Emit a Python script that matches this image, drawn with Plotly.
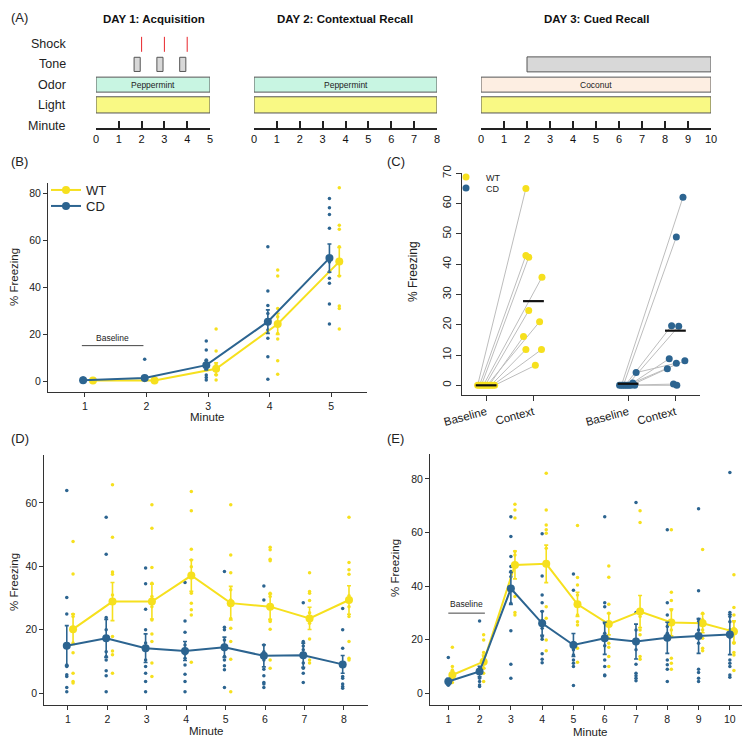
import plotly.graph_objects as go

# The page body adds an 8 px margin; draw on a figure 8 px smaller and offset coordinates.
OFF = 8
W, H = 750 - OFF, 739 - OFF
def fx(p): return (p - OFF) / W
def fy(p): return 1 - (p - OFF) / H

YELLOW = '#F6E01E'
BLUE = '#2C6490'
AX = '#333333'
FONT = 'Liberation Sans, Arial, Helvetica, sans-serif'

# ---------------- Panel A : protocol ----------------
day_titles = ['DAY 1: Acquisition', 'DAY 2: Contextual Recall', 'DAY 3: Cued Recall']
day_lengths = [5, 8, 10]
day_odors = ['Peppermint', 'Peppermint', 'Coconut']
odor_colors = {'Peppermint': '#C8F5E2', 'Coconut': '#FDEEE2'}
light_color = '#F9F984'
tone_color = '#D8D8D8'
row_labels = ['Light', 'Odor', 'Tone', 'Shock']
row_values = [1, 2, 3, 4]
day1_tone_starts = [1.67, 2.67, 3.67]
day1_tone_length = 0.27
day1_shocks = [2, 3, 4]
day3_tone_start = 2
day3_tone_end = 10

# ---------------- Panel B : Day 1 acquisition ----------------
minutes_B = [1, 2, 3, 4, 5]
wt_mean_B = [0.5, 0.5, 5.5, 24.5, 51.0]
wt_se_B = [0.3, 0.3, 2.5, 4.5, 6.0]
cd_mean_B = [0.6, 1.6, 7.0, 25.5, 52.5]
cd_se_B = [0.3, 0.5, 2.0, 5.0, 6.0]
wt_pts_B = [
    [0, 0, 0.5, 1],
    [0, 0.5, 1, 1.5],
    [22.4, 13.0, 7.5, 5.0, 2.8, 0.7],
    [47.4, 44.9, 31.1, 27.6, 20.5, 18.1, 8.9, 3.1],
    [82.4, 66.5, 64.8, 57.3, 44.9, 32.1, 31.1, 22.4],
]
cd_pts_B = [
    [0, 0, 0.5, 1, 1.5],
    [9.5, 0.5, 1, 1.5, 2],
    [17.3, 13.4, 9.2, 8.1, 6.9, 5.2, 2.8, 1.8, 0.7],
    [57.3, 38.5, 32.4, 29.0, 25.0, 21.9, 18.4, 10.6, 1.0],
    [77.8, 73.9, 71.0, 65.2, 50.8, 46.7, 43.9, 41.8, 33.0, 24.5],
]

# ---------------- Panel C : baseline vs context ----------------
c_categories = ['Baseline', 'Context', 'Baseline', 'Context']
c_positions = [1, 2, 4, 5]
wt_base_C = [0, 0, 0, 0, 0, 0, 0, 0, 0, 0]
wt_ctx_C = [65.0, 42.9, 42.3, 35.7, 24.7, 21.0, 16.1, 11.8, 11.8, 6.6]
wt_base_jit = [-0.18, -0.14, -0.1, -0.06, -0.02, 0.02, 0.06, 0.1, 0.14, 0.18]
wt_ctx_jit = [-0.16, -0.16, -0.1, 0.18, -0.1, 0.13, -0.21, -0.16, 0.17, 0.04]
cd_base_C = [0, 0, 0, 0, 0, 4.2, 0.8, 0, 0, 0]
cd_ctx_C = [62.1, 49.0, 19.7, 19.5, 8.8, 7.3, 8.1, 5.5, 0.4, 0.0]
cd_base_jit = [-0.14, -0.1, -0.06, -0.02, 0.02, 0.17, 0.1, 0.06, -0.18, 0.14]
cd_ctx_jit = [0.16, 0.02, -0.08, 0.07, -0.13, 0.02, 0.2, -0.17, -0.04, 0.03]

# ---------------- Panel D : Day 2 contextual recall ----------------
minutes_D = [1, 2, 3, 4, 5, 6, 7, 8]
wt_mean_D = [20.2, 28.9, 28.9, 37.1, 28.4, 27.3, 23.6, 29.4]
wt_se_D = [4.8, 6.0, 5.5, 5.0, 5.3, 4.0, 3.5, 4.5]
cd_mean_D = [15.0, 17.3, 14.2, 13.3, 14.5, 11.8, 12.0, 9.1]
cd_se_D = [6.3, 6.0, 4.5, 3.0, 3.2, 3.5, 3.8, 2.8]
wt_pts_D = [
    [47.8, 37.6, 24.9, 24.2, 15.8, 12.8, 6.3, 3.7, 3.2],
    [65.7, 49.2, 38.2, 37.5, 31.0, 17.9, 13.3, 12.1, 6.3],
    [59.4, 52.0, 39.6, 34.7, 30.5, 27.3, 23.1, 18.7, 16.3, 9.5, 5.3],
    [63.6, 57.5, 45.4, 42.0, 39.9, 31.5, 28.4, 26.3, 24.7, 9.8],
    [59.4, 43.6, 38.0, 32.6, 29.4, 23.6, 20.5, 16.3, 10.7, 0.5],
    [46.0, 45.2, 42.2, 41.8, 31.5, 30.5, 23.1, 22.6, 20.2, 10.5, 7.9],
    [38.0, 32.1, 31.5, 29.2, 25.4, 22.1, 17.1, 10.5, 9.5],
    [55.5, 41.2, 38.9, 37.5, 30.7, 29.4, 27.3, 24.2, 16.3, 11.0, 10.5],
]
cd_pts_D = [
    [63.9, 30.2, 25.0, 8.9, 8.4, 5.8, 5.3, 1.8, 0.5],
    [55.5, 43.8, 23.9, 20.0, 13.1, 11.6, 10.5, 7.1, 5.5, 0.5],
    [39.5, 34.5, 26.5, 20.0, 15.8, 10.5, 8.4, 6.3, 3.7, 0.5],
    [34.9, 22.8, 19.2, 15.2, 12.4, 11.0, 8.9, 6.0, 3.7, 0.5],
    [38.4, 20.8, 20.0, 16.8, 13.7, 11.6, 10.5, 8.7, 7.4, 1.8],
    [33.8, 29.4, 15.2, 13.1, 10.5, 7.6, 5.5, 3.4, 2.9, 1.8],
    [28.5, 16.3, 14.9, 13.7, 11.6, 9.5, 7.9, 6.3, 3.4],
    [26.7, 20.0, 14.2, 8.4, 5.3, 4.7, 2.9, 2.1, 1.6],
]

# ---------------- Panel E : Day 3 cued recall ----------------
minutes_E = [1, 2, 3, 4, 5, 6, 7, 8, 9, 10]
wt_mean_E = [6.8, 11.8, 47.9, 48.3, 33.2, 25.8, 30.5, 26.4, 26.1, 23.0]
wt_se_E = [1.5, 2.5, 5.2, 7.0, 4.5, 4.0, 6.0, 5.0, 3.5, 4.0]
cd_mean_E = [4.4, 8.1, 39.1, 26.1, 18.0, 20.5, 19.3, 20.7, 21.4, 21.9]
cd_se_E = [1.2, 2.0, 6.0, 4.5, 4.3, 6.0, 6.5, 5.8, 6.5, 7.5]
wt_pts_E = [
    [17.2, 10.0, 8.7, 7.5, 6.2, 5.2, 4.0],
    [21.8, 19.9, 15.2, 13.7, 12.4, 11.2, 9.3, 7.5, 4.4],
    [70.5, 68.4, 65.4, 52.9, 51.6, 48.5, 36.1, 30.1, 29.2],
    [82.1, 68.4, 62.8, 61.0, 59.7, 54.1, 32.3, 28.0, 19.9, 15.9],
    [62.6, 43.2, 40.4, 36.7, 29.2, 26.7, 25.5, 16.8, 11.6],
    [47.5, 43.3, 33.2, 29.9, 20.5, 18.7, 17.2, 13.7, 10.0],
    [68.1, 63.7, 28.6, 23.6, 21.8, 13.7, 12.7],
    [61.0, 37.7, 34.6, 31.1, 23.6, 21.2, 13.1, 11.2, 9.0],
    [53.7, 29.9, 27.4, 23.6, 20.5, 16.8, 15.9],
    [44.2, 32.0, 29.2, 26.7, 24.3, 18.7, 15.2, 14.3, 8.5],
]
cd_pts_E = [
    [13.3, 5.0, 4.0, 3.0],
    [27.0, 9.3, 7.5, 5.6, 4.4, 3.1, 2.5],
    [65.9, 58.5, 51.0, 47.3, 45.4, 43.5, 33.6, 23.3, 10.8, 5.6],
    [59.5, 43.8, 36.7, 33.8, 30.5, 27.1, 24.3, 21.2, 20.2, 14.7, 12.7, 11.4],
    [44.5, 38.4, 18.9, 16.2, 14.3, 12.4, 11.2, 10.0, 2.9],
    [65.9, 33.8, 32.3, 26.1, 22.4, 17.7, 12.4, 10.0, 6.8, 6.5],
    [71.2, 30.1, 23.6, 16.2, 10.8, 7.5, 6.5, 5.6, 4.7],
    [61.0, 33.8, 29.2, 24.9, 22.4, 12.4, 10.6, 9.0, 4.4],
    [68.9, 38.3, 27.6, 26.7, 23.6, 18.7, 9.0, 7.7, 5.6, 4.4],
    [82.4, 30.1, 28.6, 26.7, 23.6, 20.9, 12.4, 11.2, 10.0, 6.8, 6.0],
]

WT_OFF = 0.13
CD_OFF = -0.03

fig = go.Figure()

# ---------- Panel A traces ----------
day_axes = ['x', 'x2', 'x3']
for i, L in enumerate(day_lengths):
    xa = day_axes[i]
    fig.add_trace(go.Bar(orientation='h', y=[row_values[0]], x=[L], base=[0], width=0.8,
                         marker=dict(color=light_color, line=dict(color='#555', width=1)),
                         xaxis=xa, yaxis='y', showlegend=False, hoverinfo='skip'))
    fig.add_trace(go.Bar(orientation='h', y=[row_values[1]], x=[L], base=[0], width=0.74,
                         marker=dict(color=odor_colors[day_odors[i]], line=dict(color='#555', width=1)),
                         xaxis=xa, yaxis='y', showlegend=False, hoverinfo='skip'))
fig.add_trace(go.Bar(orientation='h', y=[row_values[2]] * len(day1_tone_starts),
                     x=[day1_tone_length] * len(day1_tone_starts), base=day1_tone_starts, width=0.7,
                     marker=dict(color=tone_color, line=dict(color='#555', width=1)),
                     xaxis='x', yaxis='y', showlegend=False, hoverinfo='skip'))
fig.add_trace(go.Bar(orientation='h', y=[row_values[2]], x=[day3_tone_end - day3_tone_start],
                     base=[day3_tone_start], width=0.74,
                     marker=dict(color=tone_color, line=dict(color='#555', width=1)),
                     xaxis='x3', yaxis='y', showlegend=False, hoverinfo='skip'))
sx, sy = [], []
for s in day1_shocks:
    sx += [s, s, None]
    sy += [row_values[3] - 0.38, row_values[3] + 0.36, None]
fig.add_trace(go.Scatter(x=sx, y=sy, mode='lines', line=dict(color='#E8252B', width=1),
                         xaxis='x', yaxis='y', showlegend=False, hoverinfo='skip'))

# ---------- helpers ----------
def dots(minutes, pts, off, color, xa, ya, size=3.5):
    xs, ys = [], []
    for m, vals in zip(minutes, pts):
        xs += [m + off] * len(vals)
        ys += vals
    return go.Scatter(x=xs, y=ys, mode='markers', marker=dict(color=color, size=size),
                      xaxis=xa, yaxis=ya, showlegend=False, hoverinfo='skip')

def means(minutes, mean, se, off, color, xa, ya, name=None, legend=None, size=8):
    return go.Scatter(x=[m + off for m in minutes], y=mean, mode='lines+markers', name=name,
                      line=dict(color=color, width=2), marker=dict(color=color, size=size),
                      error_y=dict(type='data', array=se, visible=True, color=color,
                                   thickness=1.6, width=2),
                      xaxis=xa, yaxis=ya, showlegend=legend is not None,
                      legend=legend if legend else 'legend', hoverinfo='skip')

# ---------- Panel B ----------
fig.add_trace(dots(minutes_B, wt_pts_B, WT_OFF, YELLOW, 'x4', 'y2'))
fig.add_trace(dots(minutes_B, cd_pts_B, CD_OFF, BLUE, 'x4', 'y2'))
fig.add_trace(means(minutes_B, wt_mean_B, wt_se_B, WT_OFF, YELLOW, 'x4', 'y2', 'WT', 'legend'))
fig.add_trace(means(minutes_B, cd_mean_B, cd_se_B, CD_OFF, BLUE, 'x4', 'y2', 'CD', 'legend2'))

# ---------- Panel C ----------
def pair_lines(p0, p1, j0, j1, v0, v1):
    xs, ys = [], []
    for a, b, c, d in zip(j0, j1, v0, v1):
        xs += [p0 + a, p1 + b, None]
        ys += [c, d, None]
    return xs, ys

lx1, ly1 = pair_lines(c_positions[0], c_positions[1], wt_base_jit, wt_ctx_jit, wt_base_C, wt_ctx_C)
lx2, ly2 = pair_lines(c_positions[2], c_positions[3], cd_base_jit, cd_ctx_jit, cd_base_C, cd_ctx_C)
fig.add_trace(go.Scatter(x=lx1 + lx2, y=ly1 + ly2, mode='lines', line=dict(color='#BDBDBD', width=1),
                         xaxis='x5', yaxis='y3', showlegend=False, hoverinfo='skip'))
fig.add_trace(go.Scatter(x=[c_positions[0] + j for j in wt_base_jit] + [c_positions[1] + j for j in wt_ctx_jit],
                         y=wt_base_C + wt_ctx_C, mode='markers', name='WT',
                         marker=dict(color=YELLOW, size=7), xaxis='x5', yaxis='y3',
                         legend='legend3', hoverinfo='skip'))
fig.add_trace(go.Scatter(x=[c_positions[2] + j for j in cd_base_jit] + [c_positions[3] + j for j in cd_ctx_jit],
                         y=cd_base_C + cd_ctx_C, mode='markers', name='CD',
                         marker=dict(color=BLUE, size=7), xaxis='x5', yaxis='y3',
                         legend='legend4', hoverinfo='skip'))
mx, my = [], []
for p, vals in zip(c_positions, [wt_base_C, wt_ctx_C, cd_base_C, cd_ctx_C]):
    m = sum(vals) / len(vals)
    mx += [p - 0.22, p + 0.22, None]
    my += [m, m, None]
fig.add_trace(go.Scatter(x=mx, y=my, mode='lines', line=dict(color='#111', width=2.2),
                         xaxis='x5', yaxis='y3', showlegend=False, hoverinfo='skip'))

# ---------- Panel D ----------
fig.add_trace(dots(minutes_D, wt_pts_D, WT_OFF, YELLOW, 'x6', 'y4'))
fig.add_trace(dots(minutes_D, cd_pts_D, CD_OFF, BLUE, 'x6', 'y4'))
fig.add_trace(means(minutes_D, wt_mean_D, wt_se_D, WT_OFF, YELLOW, 'x6', 'y4'))
fig.add_trace(means(minutes_D, cd_mean_D, cd_se_D, CD_OFF, BLUE, 'x6', 'y4'))

# ---------- Panel E ----------
fig.add_trace(dots(minutes_E, wt_pts_E, WT_OFF, YELLOW, 'x7', 'y5'))
fig.add_trace(dots(minutes_E, cd_pts_E, 0.0, BLUE, 'x7', 'y5'))
fig.add_trace(means(minutes_E, wt_mean_E, wt_se_E, WT_OFF, YELLOW, 'x7', 'y5'))
fig.add_trace(means(minutes_E, cd_mean_E, cd_se_E, 0.0, BLUE, 'x7', 'y5'))

# ---------- axes ----------
def ax(**kw):
    base = dict(showline=True, linecolor=AX, linewidth=1, ticks='outside', ticklen=4,
                tickcolor=AX, tickwidth=1, showgrid=False, zeroline=False, automargin=False,
                tickfont=dict(size=10.5, color='#222'), fixedrange=True)
    base.update(kw)
    return base

def day_axis(x0, x1, L):
    return ax(domain=[fx(x0), fx(x1)], range=[0, L], anchor='y', ticks='inside', ticklen=7,
              tickwidth=1.5, linewidth=1.5, linecolor='#222', tickcolor='#222',
              tickvals=list(range(L + 1)), tickfont=dict(size=11, color='#111'))

layout_axes = dict(
    xaxis=day_axis(96, 210, day_lengths[0]),
    xaxis2=day_axis(254, 437, day_lengths[1]),
    xaxis3=day_axis(481, 711, day_lengths[2]),
    yaxis=dict(domain=[fy(127.7), fy(34)], range=[-0.127, 4.5], visible=False, anchor='x',
               fixedrange=True, automargin=False),
    xaxis4=ax(domain=[fx(48), fx(367)], range=[0.4, 5.58], anchor='y2', tickvals=minutes_B),
    yaxis2=ax(domain=[fy(392), fy(183)], range=[-4.4, 84.4], anchor='x4', tickvals=[0, 20, 40, 60, 80]),
    xaxis5=ax(domain=[fx(462), fx(700)], range=[0.49, 5.52], anchor='y3', tickvals=c_positions,
              ticktext=c_categories, tickangle=-15, ticklen=5, tickfont=dict(size=11.5, color='#222')),
    yaxis3=ax(domain=[fy(395), fy(173.3)], range=[-3.2, 70], anchor='x5', tickvals=list(range(0, 71, 10)),
              tickangle=-90, ticklen=5, tickfont=dict(size=11.5, color='#222')),
    xaxis6=ax(domain=[fx(44.3), fx(368.3)], range=[0.4, 8.62], anchor='y4', tickvals=minutes_D),
    yaxis4=ax(domain=[fy(705.3), fy(455)], range=[-3.8, 75.1], anchor='x6', tickvals=[0, 20, 40, 60]),
    xaxis7=ax(domain=[fx(430), fx(748)], range=[0.415, 10.58], anchor='y5', tickvals=minutes_E),
    yaxis5=ax(domain=[fy(705.3), fy(454)], range=[-4.5, 89.3], anchor='x7', tickvals=[0, 20, 40, 60, 80]),
)

# ---------- annotations ----------
ann = []
def t(text, x, y, size=11, xanchor='center', yanchor='middle', angle=0, xref='paper', yref='paper', bold=False, color='#222'):
    ann.append(dict(text=('<b>%s</b>' % text) if bold else text, x=x, y=y, xref=xref, yref=yref,
                    xanchor=xanchor, yanchor=yanchor, textangle=angle, showarrow=False,
                    font=dict(size=size, color=color, family=FONT)))

t('(A)', fx(9), fy(17), 13, xanchor='left')
t('(B)', fx(9), fy(161), 13, xanchor='left')
t('(C)', fx(385), fy(161), 13, xanchor='left')
t('(D)', fx(9), fy(438), 13, xanchor='left')
t('(E)', fx(385), fy(438), 13, xanchor='left')
t(day_titles[0], fx(154), fy(19), 11.5, bold=True, color='#111')
t(day_titles[1], fx(345), fy(19), 11.5, bold=True, color='#111')
t(day_titles[2], fx(596), fy(19), 11.5, bold=True, color='#111')
for lab, v in zip(row_labels, row_values):
    t(lab, fx(68), v, 12.5, xanchor='right', yref='y', color='#222')
t('Minute', fx(68), fy(126), 12.5, xanchor='right', color='#222')
t(day_odors[0], day_lengths[0] / 2, row_values[1], 8.5, xref='x', yref='y')
t(day_odors[1], day_lengths[1] / 2, row_values[1], 8.5, xref='x2', yref='y')
t(day_odors[2], day_lengths[2] / 2, row_values[1], 8.5, xref='x3', yref='y')

t('% Freezing', fx(14), fy(277), 11.5, angle=-90)
t('Minute', fx(207), fy(417), 11.5)
t('% Freezing', fx(413), fy(272), 12, angle=-90)
t('% Freezing', fx(14), fy(582), 11.5, angle=-90)
t('Minute', fx(206), fy(731), 11.5)
t('% Freezing', fx(395), fy(568), 11.5, angle=-90)
t('Minute', fx(590), fy(732), 11.5)
t('Baseline', 1.45, 18.6, 8.5, xref='x4', yref='y2')
t('Baseline', 1.58, 33.2, 8.5, xref='x7', yref='y5')

shapes = [
    dict(type='line', xref='x4', yref='y2', x0=0.95, x1=1.95, y0=15.3, y1=15.3, line=dict(color='#444', width=1)),
    dict(type='line', xref='x7', yref='y5', x0=1.0, x1=2.17, y0=29.9, y1=29.9, line=dict(color='#444', width=1)),
]

def leg(xp, yp, size):
    return dict(x=fx(xp), y=fy(yp), xanchor='left', yanchor='middle', bgcolor='rgba(0,0,0,0)',
                font=dict(size=size), itemwidth=30, tracegroupgap=0)

fig.update_layout(
    width=W, height=H, autosize=False,
    margin=dict(l=0, r=0, t=0, b=0, pad=0, autoexpand=False),
    paper_bgcolor='white', plot_bgcolor='white',
    font=dict(family=FONT, color='#222'),
    barmode='overlay',
    annotations=ann, shapes=shapes,
    legend=leg(46, 190, 13),
    legend2=leg(46, 206, 13),
    legend3=leg(446, 177, 9),
    legend4=leg(446, 188, 9),
    **layout_axes,
)

fig.write_html('out.html')
